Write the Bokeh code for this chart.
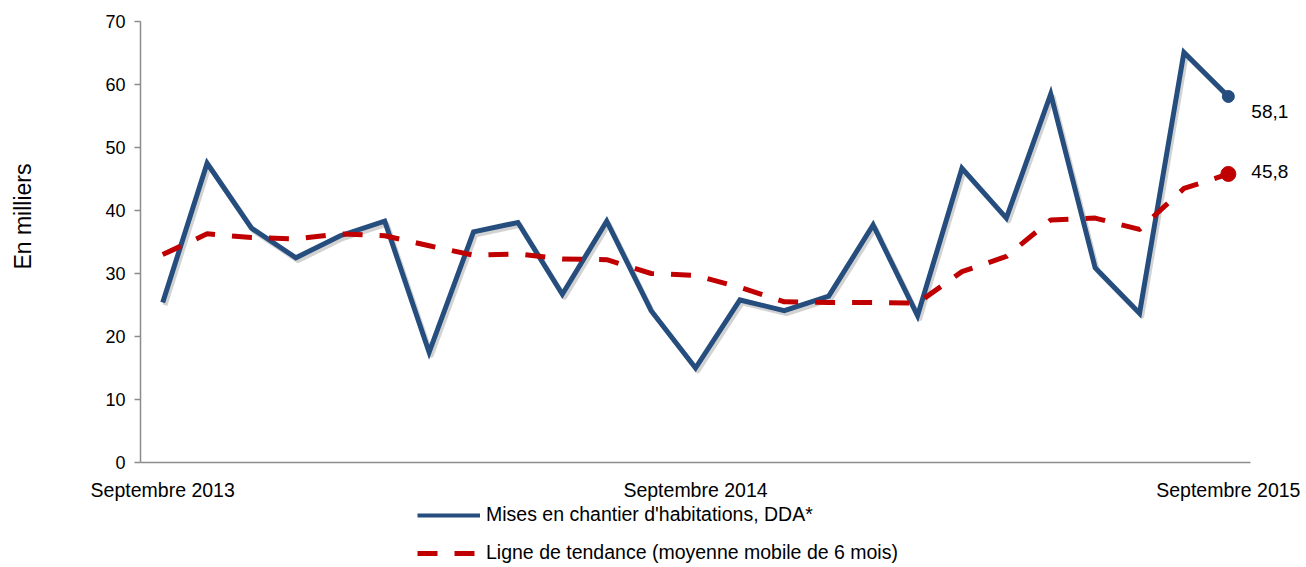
from bokeh.plotting import figure
from bokeh.layouts import column
from bokeh.models import Range1d, FixedTicker, Legend, LegendItem, Label, Title
from bokeh.embed import file_html
from bokeh.resources import INLINE

# Monthly index: September 2013 (0) ... September 2015 (24)
month_index = list(range(25))

# Mises en chantier d'habitations, DDA* (in thousands)
starts = [25.4, 47.5, 37.2, 32.5, 36.0, 38.3, 17.5, 36.6, 38.1, 26.7, 38.3, 24.1, 15.0,
          25.8, 24.1, 26.4, 37.7, 23.3, 46.7, 38.8, 58.5, 30.9, 23.7, 65.1, 58.1]

# Ligne de tendance (moyenne mobile de 6 mois)
trend = [33.0, 36.3, 35.7, 35.5, 36.3, 36.0, 34.4, 32.9, 33.1, 32.3, 32.2, 30.0, 29.7,
         27.8, 25.5, 25.4, 25.4, 25.3, 30.3, 32.7, 38.5, 38.8, 37.0, 43.5, 45.8]

tick_positions = [0, 12, 24]
tick_labels = ["Septembre 2013", "Septembre 2014", "Septembre 2015"]
y_ticks = [0, 10, 20, 30, 40, 50, 60, 70]

series_names = ["Mises en chantier d'habitations, DDA*",
                "Ligne de tendance (moyenne mobile de 6 mois)"]

BLUE = "#254D7E"
RED = "#C00000"
GRAY = "#8C8C8C"
FONT = "Liberation Sans"

blue_style = dict(line_color=BLUE, line_width=5, line_join="miter")
red_style = dict(line_color=RED, line_width=5, line_dash="20 17", line_join="round")

# extra room on the right of the axis for the end-value labels (in month units)
right_room = 1.26

p = figure(width=1306, height=503, output_backend="svg", toolbar_location=None,
           x_range=Range1d(-0.5, 24.5 + right_room), y_range=Range1d(0, 70),
           min_border_left=140, min_border_right=0, min_border_top=21, min_border_bottom=39)
p.outline_line_color = None
p.grid.grid_line_color = None
p.background_fill_color = "white"
p.border_fill_color = "white"

# soft drop shadow for the main series
shadow_x = [x + 0.05 for x in month_index]
shadow_y = [v - 0.45 for v in starts]
p.line(shadow_x, shadow_y, line_color="#7F7F7F", line_alpha=0.35, line_width=5,
       line_join="round")

p.line(month_index, starts, **blue_style)
p.line(month_index, trend, **red_style)

p.scatter([month_index[-1]], [starts[-1]], size=12, color=BLUE)
p.scatter([month_index[-1]], [trend[-1]], size=15, color=RED)

def fmt(v):
    return f"{v:.1f}".replace(".", ",")

p.add_layout(Label(x=month_index[-1], y=starts[-1], text=fmt(starts[-1]), x_offset=23,
                   y_offset=-15, text_baseline="middle", text_font=FONT,
                   text_font_size="19px", text_color="black"))
p.add_layout(Label(x=month_index[-1], y=trend[-1], text=fmt(trend[-1]), x_offset=23,
                   y_offset=2, text_baseline="middle", text_font=FONT,
                   text_font_size="19px", text_color="black"))

# Y axis
ya = p.yaxis[0]
ya.ticker = FixedTicker(ticks=y_ticks)
ya.axis_line_color = GRAY
ya.axis_line_width = 1.5
ya.major_tick_line_color = GRAY
ya.major_tick_line_width = 1.5
ya.major_tick_out = 6
ya.major_tick_in = 0
ya.minor_tick_line_color = None
ya.major_label_text_font = FONT
ya.major_label_text_font_size = "18px"
ya.major_label_text_color = "black"
ya.major_label_standoff = 9
# invisible spacer label to push the axis title outward
ya.axis_label = "\u00a0"
ya.axis_label_text_font_size = "10px"
ya.axis_label_standoff = 48

# X axis
xa = p.xaxis[0]
xa.bounds = (-0.5, 24.5)
xa.ticker = FixedTicker(ticks=tick_positions)
xa.major_label_overrides = {t: l for t, l in zip(tick_positions, tick_labels)}
xa.axis_line_color = GRAY
xa.axis_line_width = 1.5
xa.major_tick_line_color = None
xa.major_tick_out = 0
xa.major_tick_in = 0
xa.minor_tick_line_color = None
xa.major_label_text_font = FONT
xa.major_label_text_font_size = "19.5px"
xa.major_label_text_color = "black"
xa.major_label_standoff = 16

# Y axis title
p.add_layout(Title(text="En milliers", align="right", offset=142, text_font=FONT,
                   text_font_size="23px", text_font_style="normal",
                   text_color="black"), "left")

# Legend strip below the chart
pl = figure(width=1306, height=64, output_backend="svg", toolbar_location=None,
            x_range=Range1d(0, 1), y_range=Range1d(0, 1),
            x_axis_location=None, y_axis_location=None, min_border=0)
pl.outline_line_color = None
pl.grid.grid_line_color = None
pl.border_fill_color = "white"
nan = float("nan")
k_blue = pl.line([nan], [nan], line_color=BLUE, line_width=4)
k_red = pl.line([nan], [nan], **red_style)

legend = Legend(items=[LegendItem(label=series_names[0], renderers=[k_blue]),
                       LegendItem(label=series_names[1], renderers=[k_red])],
                location=(277, 3), orientation="vertical")
legend.border_line_color = None
legend.background_fill_alpha = 0
legend.padding = 0
legend.margin = 0
legend.spacing = 15
legend.glyph_width = 63
legend.glyph_height = 20
legend.label_standoff = 6
legend.label_text_font = FONT
legend.label_text_font_size = "19.5px"
legend.label_text_color = "black"
legend.label_height = 20
pl.add_layout(legend, "center")

layout = column(p, pl, spacing=0)
open("out.html", "w").write(file_html(layout, INLINE))
